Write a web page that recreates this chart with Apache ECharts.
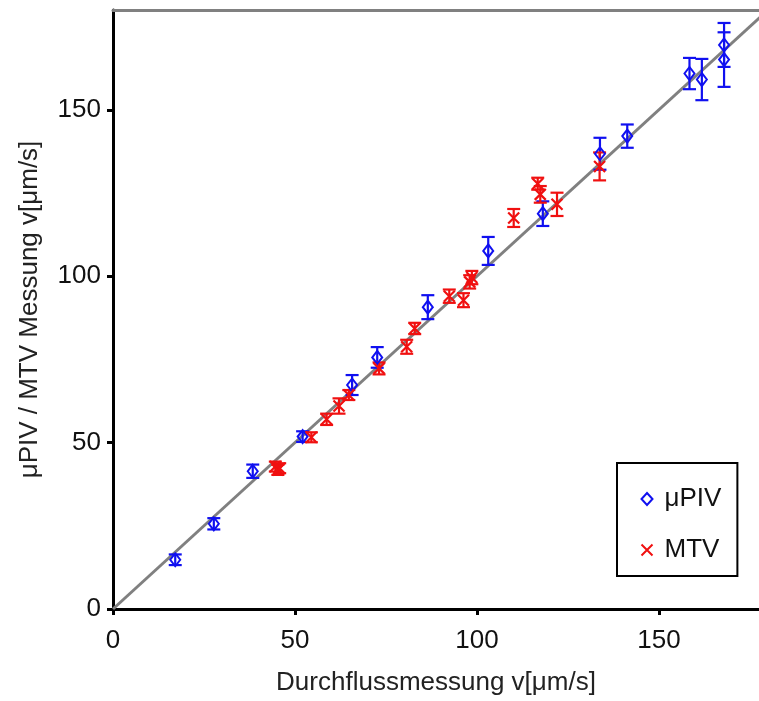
<!DOCTYPE html>
<html><head><meta charset="utf-8">
<script src="https://cdn.jsdelivr.net/npm/echarts@6/dist/echarts.min.js"></script>
<style>html,body{margin:0;padding:0;background:#fff}#c{width:759px;height:701px}</style>
</head><body><div id="c"></div>
<script>
const xTicks = [0, 50, 100, 150];
const yTicks = [0, 50, 100, 150];
const xTitle = 'Durchflussmessung v[μm/s]';
const yTitle = 'μPIV / MTV Messung v[μm/s]';
const seriesNames = ['μPIV', 'MTV'];

const pivX   = [17.1, 27.7, 38.4, 52.1, 65.7, 72.6, 86.5, 103.1, 118.1, 133.8, 141.3, 158.4, 161.8, 167.9, 167.9];
const pivY   = [14.8, 25.6, 41.4, 51.8, 67.3, 75.6, 90.7, 107.6, 118.8, 136.8, 142.1, 160.9, 159.1, 169.5, 165.1];
const pivErr = [1.6, 1.7, 2.0, 1.6, 3.0, 3.1, 3.6, 4.2, 3.7, 4.8, 3.5, 4.7, 6.2, 6.6, 8.2];

const mtvX   = [44.6, 45.3, 45.8, 54.5, 58.7, 62.1, 64.8, 73.1, 80.7, 82.9, 92.4, 96.3, 98.0, 98.6, 110.1, 116.7, 117.4, 122.0, 133.7];
const mtvY   = [42.8, 41.8, 42.3, 51.6, 57.0, 61.0, 64.3, 72.3, 78.8, 84.3, 94.0, 92.8, 98.3, 99.6, 117.5, 127.8, 124.6, 121.6, 133.0];
const mtvErr = [1.5, 1.5, 1.5, 1.5, 1.7, 2.3, 1.5, 1.8, 2.1, 1.7, 2.0, 2.1, 2.0, 2.0, 2.7, 1.8, 2.5, 3.5, 4.2];

const refX = [0, 180];
const refY = [0, 180];

const BLUE = '#1010f0', RED = '#f01010';
const FONT = "'Liberation Sans', Arial, sans-serif";
const CROSS = 'path://M0,0L10,10M10,0L0,10';

function errData(xs, ys, es) { return xs.map((x, i) => [x, ys[i] - es[i], ys[i] + es[i]]); }
function errSeries(data, color) {
  return {
    type: 'custom', data: data, z: 3, silent: true,
    renderItem: function (params, api) {
      const lo = api.coord([api.value(0), api.value(1)]);
      const hi = api.coord([api.value(0), api.value(2)]);
      const w = 6.5;
      const st = { stroke: color, lineWidth: 2.2 };
      return { type: 'group', children: [
        { type: 'line', shape: { x1: lo[0], y1: lo[1], x2: hi[0], y2: hi[1] }, style: st },
        { type: 'line', shape: { x1: lo[0] - w, y1: lo[1], x2: lo[0] + w, y2: lo[1] }, style: st },
        { type: 'line', shape: { x1: hi[0] - w, y1: hi[1], x2: hi[0] + w, y2: hi[1] }, style: st }
      ]};
    }
  };
}

const chart = echarts.init(document.getElementById('c'), null, { renderer: 'canvas' });
const axLabel = { color: '#111', fontSize: 26, fontFamily: FONT };
chart.setOption({
  animation: false,
  backgroundColor: '#fff',
  grid: { left: 113, right: 0, top: 10, bottom: 91, containLabel: false },
  xAxis: [{
    type: 'value', min: 0, max: 177.5, position: 'bottom',
    name: xTitle, nameLocation: 'middle', nameGap: 61,
    nameTextStyle: { color: '#222', fontSize: 26, fontFamily: FONT },
    axisLine: { show: true, onZero: false, lineStyle: { color: '#000', width: 3 } },
    axisTick: { show: true, inside: false, length: 6, lineStyle: { color: '#000', width: 3 }, customValues: xTicks },
    axisLabel: Object.assign({ margin: 19, customValues: xTicks }, axLabel),
    splitLine: { show: false }
  }, {
    type: 'value', min: 0, max: 177.5, position: 'top',
    axisLine: { show: true, onZero: false, lineStyle: { color: '#808080', width: 3 } },
    axisTick: { show: false }, axisLabel: { show: false }, splitLine: { show: false }
  }],
  yAxis: {
    type: 'value', min: 0, max: 180,
    name: yTitle, nameLocation: 'middle', nameGap: 70,
    nameTextStyle: { color: '#222', fontSize: 26, fontFamily: FONT },
    axisLine: { show: true, onZero: false, lineStyle: { color: '#000', width: 3 } },
    axisTick: { show: true, inside: false, length: 6, lineStyle: { color: '#000', width: 3 }, customValues: yTicks },
    axisLabel: Object.assign({ margin: 12, customValues: yTicks }, axLabel),
    splitLine: { show: false }
  },
  legend: {
    left: 617, top: 463, orient: 'vertical',
    borderColor: '#000', borderWidth: 2, borderRadius: 0,
    padding: [23, 16, 13, 22], itemGap: 25,
    itemWidth: 11, itemHeight: 12,
    textStyle: { color: '#111', fontSize: 26, fontFamily: FONT, padding: [0, 0, 0, 7] },
    data: [
      { name: seriesNames[0], icon: 'diamond', itemStyle: { color: '#fff', borderColor: BLUE, borderWidth: 2 } },
      { name: seriesNames[1], icon: CROSS, itemStyle: { color: 'none', borderColor: RED, borderWidth: 2 } }
    ]
  },
  series: [
    { type: 'line', data: refX.map((x, i) => [x, refY[i]]), showSymbol: false, symbol: 'none', silent: true, z: 1,
      lineStyle: { color: '#808080', width: 3 }, clip: true },
    errSeries(errData(pivX, pivY, pivErr), BLUE),
    errSeries(errData(mtvX, mtvY, mtvErr), RED),
    { name: seriesNames[0], type: 'scatter', z: 4, data: pivX.map((x, i) => [x, pivY[i]]),
      symbol: 'diamond', symbolSize: [10, 13],
      itemStyle: { color: 'rgba(255,255,255,0)', borderColor: BLUE, borderWidth: 2, opacity: 1 } },
    { name: seriesNames[1], type: 'scatter', z: 4, data: mtvX.map((x, i) => [x, mtvY[i]]),
      symbol: CROSS, symbolSize: [11, 11],
      itemStyle: { color: 'none', borderColor: RED, borderWidth: 2.2, opacity: 1 } }
  ]
});
</script>
</body></html>
